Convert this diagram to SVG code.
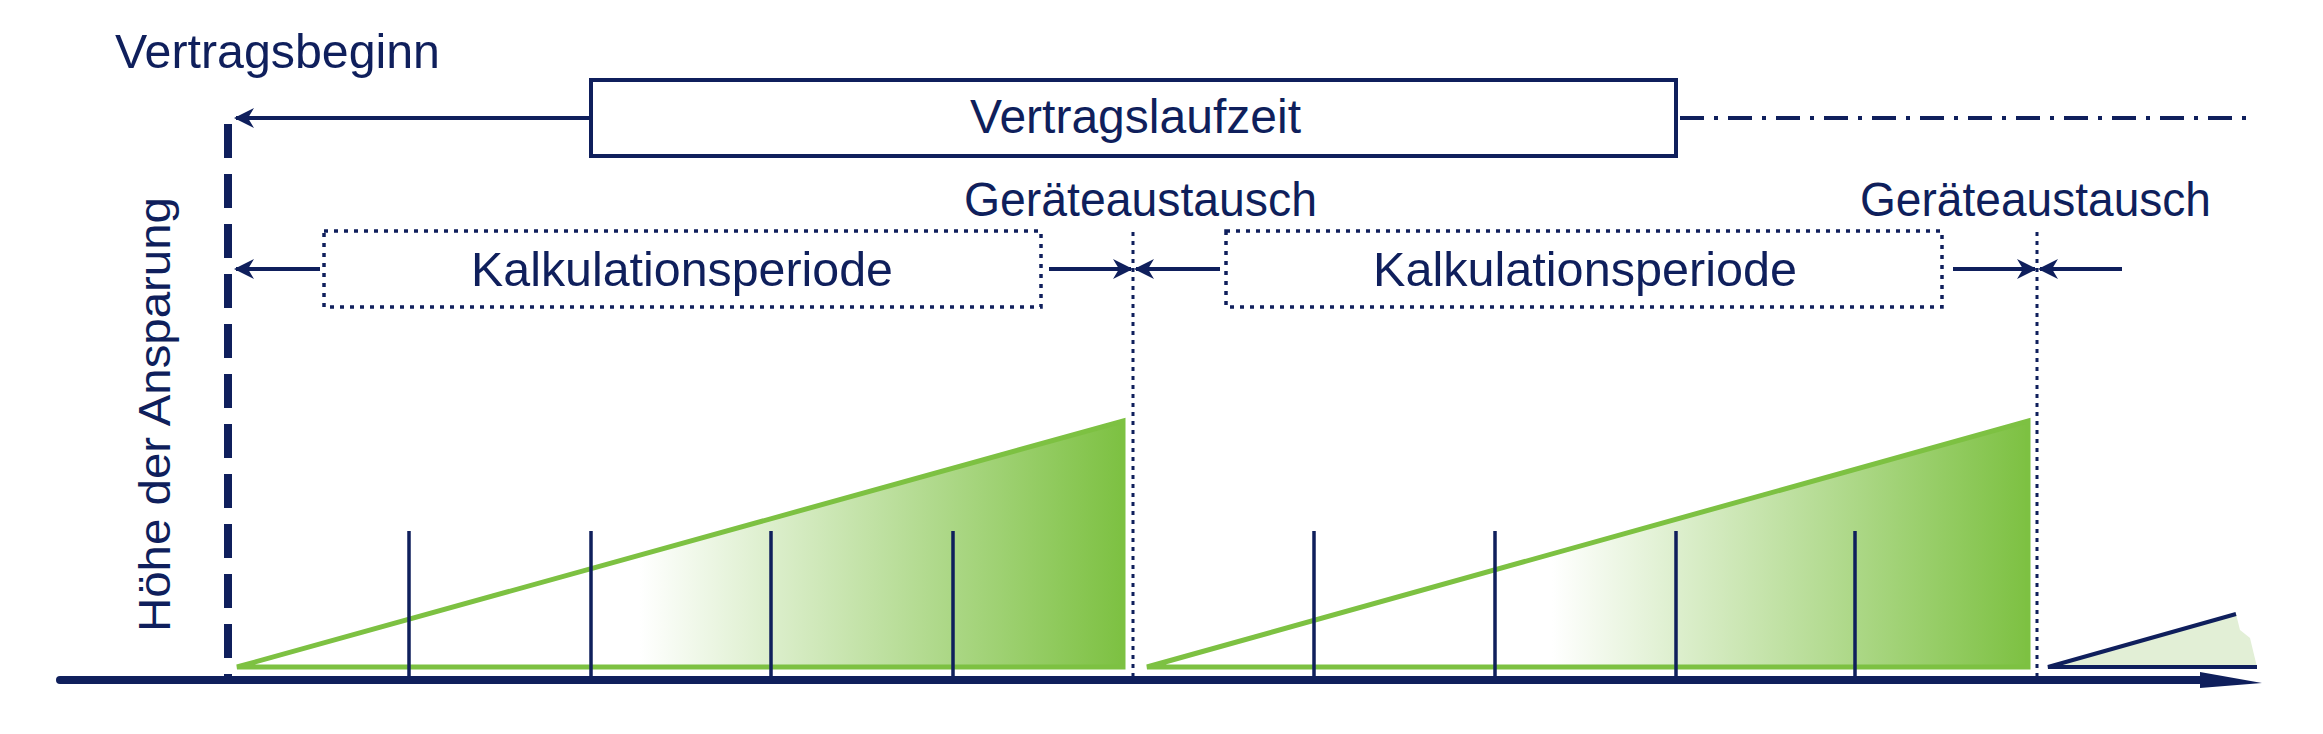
<svg xmlns="http://www.w3.org/2000/svg" width="2323" height="734" viewBox="0 0 2323 734">
<style>
.t{font-family:"Liberation Sans",Arial,sans-serif;font-size:48px;fill:#0f1f5c}
.nv{stroke:#0f1f5c;fill:none}
.gl{stroke:#7dc142;stroke-width:5;fill:none}
</style>
<defs>
<linearGradient id="g1" gradientUnits="userSpaceOnUse" x1="640" y1="0" x2="1123" y2="0"><stop offset="0" stop-color="#fff"/><stop offset="1" stop-color="#7dc142"/></linearGradient>
<linearGradient id="g2" gradientUnits="userSpaceOnUse" x1="1552" y1="0" x2="2028" y2="0"><stop offset="0" stop-color="#fff"/><stop offset="1" stop-color="#7dc142"/></linearGradient>
<marker id="ah" viewBox="0 0 10 10" refX="9" refY="5" markerWidth="5" markerHeight="5" orient="auto-start-reverse" markerUnits="strokeWidth"><path d="M0,0L10,5L0,10L3,5Z" fill="#0f1f5c"/></marker>
</defs>
<rect width="2323" height="734" fill="#fff"/>
<g id="areas">
<polygon points="237,667 1123,421 1123,667" fill="url(#g1)"/>
<polygon points="237,667 1123,421 1123,667" class="gl"/>
<polygon points="1147,667 2028,421 2028,667" fill="url(#g2)"/>
<polygon points="1147,667 2028,421 2028,667" class="gl"/>
<path d="M2048,667 L2236,614 L2240,630 L2250,638 L2257,667 Z" fill="#e2efd6"/>
<path d="M2257,667 L2048,667 L2236,614" class="nv" stroke-width="4"/>
</g>
<g id="ticks" class="nv" stroke-width="3.5">
<path d="M409,531V676M591,531V676M771,531V676M953,531V676M1314,531V676M1495,531V676M1676,531V676M1855,531V676"/>
</g>
<g id="connectors">
<path d="M60,680H2215" class="nv" stroke-width="8" stroke-linecap="round"/>
<path d="M2200,672L2262,683L2200,688Z" fill="#0f1f5c"/>
<path d="M228,124V676" class="nv" stroke-width="8" stroke-dasharray="34,16"/>
<path d="M1133,232V676M2037,232V676" class="nv" stroke-width="3" stroke-dasharray="4,5"/>
<path d="M591,118H236" class="nv" stroke-width="4" marker-end="url(#ah)"/>
<path d="M1680,118H2249" class="nv" stroke-width="4" stroke-dasharray="24,10,4,10"/>
<path d="M320,269H236" class="nv" stroke-width="4" marker-end="url(#ah)"/>
<path d="M1049,269H1131" class="nv" stroke-width="4" marker-end="url(#ah)"/>
<path d="M1220,269H1136" class="nv" stroke-width="4" marker-end="url(#ah)"/>
<path d="M1953,269H2035" class="nv" stroke-width="4" marker-end="url(#ah)"/>
<path d="M2122,269H2040" class="nv" stroke-width="4" marker-end="url(#ah)"/>
</g>
<g id="vertragsbeginn"><text class="t" x="115" y="68" textLength="325" lengthAdjust="spacingAndGlyphs">Vertragsbeginn</text></g>
<g id="vertragslaufzeit">
<rect x="591" y="80" width="1085" height="76" class="nv" stroke-width="4"/>
<text class="t" x="970" y="133" textLength="331" lengthAdjust="spacingAndGlyphs">Vertragslaufzeit</text>
</g>
<g id="geraet1"><text class="t" x="964" y="216" textLength="353" lengthAdjust="spacingAndGlyphs">Geräteaustausch</text></g>
<g id="geraet2"><text class="t" x="1860" y="216" textLength="351" lengthAdjust="spacingAndGlyphs">Geräteaustausch</text></g>
<g id="kalk1">
<rect x="324" y="231" width="717" height="76" class="nv" stroke-width="3.5" stroke-dasharray="4,6"/>
<text class="t" x="471" y="286" textLength="422" lengthAdjust="spacingAndGlyphs">Kalkulationsperiode</text>
</g>
<g id="kalk2">
<rect x="1226" y="231" width="716" height="76" class="nv" stroke-width="3.5" stroke-dasharray="4,6"/>
<text class="t" x="1373" y="286" textLength="424" lengthAdjust="spacingAndGlyphs">Kalkulationsperiode</text>
</g>
<g id="yaxis"><text class="t" style="font-size:44px" transform="translate(170,632) rotate(-90)" textLength="435" lengthAdjust="spacingAndGlyphs">Höhe der Ansparung</text></g>
</svg>
